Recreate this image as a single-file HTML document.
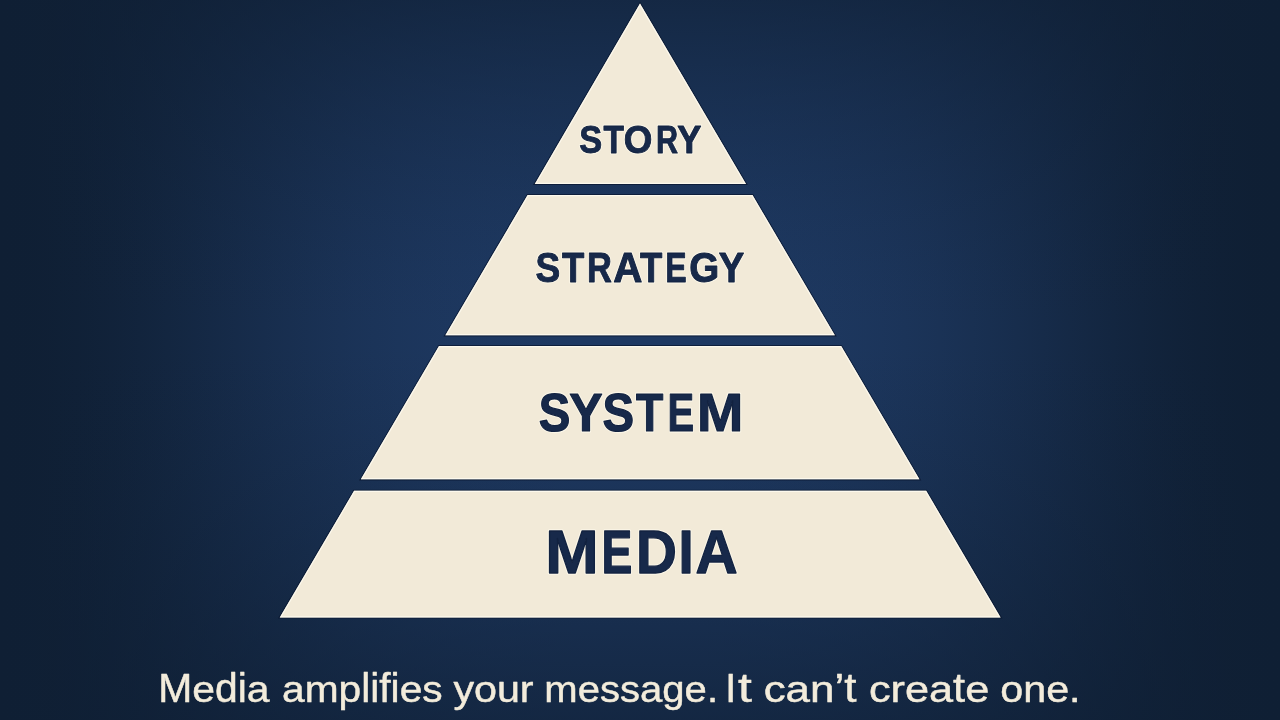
<!DOCTYPE html>
<html>
<head>
<meta charset="utf-8">
<title>Pyramid</title>
<style>
  html, body { margin: 0; padding: 0; width: 1280px; height: 720px; overflow: hidden; background: #12233d; }
  body { font-family: "Liberation Sans", sans-serif; }
  svg { display: block; position: absolute; left: 0; top: 0; }
  text { font-family: "Liberation Sans", sans-serif; -webkit-font-smoothing: antialiased; }
  svg { will-change: transform; transform: translateZ(0); }
</style>
</head>
<body>
<svg width="1280" height="720" viewBox="0 0 1280 720">
  <defs>
    <linearGradient id="bgh" x1="0" y1="0" x2="1" y2="0">
      <stop offset="0.0" stop-color="#0f1f34" stop-opacity="1.0"/>
      <stop offset="0.0208" stop-color="#0f1f34" stop-opacity="0.9918"/>
      <stop offset="0.0417" stop-color="#0f1f34" stop-opacity="0.9679"/>
      <stop offset="0.0625" stop-color="#0f1f34" stop-opacity="0.93"/>
      <stop offset="0.0833" stop-color="#0f1f34" stop-opacity="0.8799"/>
      <stop offset="0.1042" stop-color="#0f1f34" stop-opacity="0.82"/>
      <stop offset="0.125" stop-color="#0f1f34" stop-opacity="0.7525"/>
      <stop offset="0.1458" stop-color="#0f1f34" stop-opacity="0.6798"/>
      <stop offset="0.1667" stop-color="#0f1f34" stop-opacity="0.6042"/>
      <stop offset="0.1875" stop-color="#0f1f34" stop-opacity="0.5281"/>
      <stop offset="0.2083" stop-color="#0f1f34" stop-opacity="0.4533"/>
      <stop offset="0.2292" stop-color="#0f1f34" stop-opacity="0.3815"/>
      <stop offset="0.25" stop-color="#0f1f34" stop-opacity="0.3144"/>
      <stop offset="0.2708" stop-color="#0f1f34" stop-opacity="0.2529"/>
      <stop offset="0.2917" stop-color="#0f1f34" stop-opacity="0.198"/>
      <stop offset="0.3125" stop-color="#0f1f34" stop-opacity="0.1501"/>
      <stop offset="0.3333" stop-color="#0f1f34" stop-opacity="0.1096"/>
      <stop offset="0.3542" stop-color="#0f1f34" stop-opacity="0.0763"/>
      <stop offset="0.375" stop-color="#0f1f34" stop-opacity="0.05"/>
      <stop offset="0.3958" stop-color="#0f1f34" stop-opacity="0.0302"/>
      <stop offset="0.4167" stop-color="#0f1f34" stop-opacity="0.0163"/>
      <stop offset="0.4375" stop-color="#0f1f34" stop-opacity="0.0073"/>
      <stop offset="0.4583" stop-color="#0f1f34" stop-opacity="0.0023"/>
      <stop offset="0.4792" stop-color="#0f1f34" stop-opacity="0.0003"/>
      <stop offset="0.5" stop-color="#0f1f34" stop-opacity="0.0"/>
      <stop offset="0.5208" stop-color="#0f1f34" stop-opacity="0.0003"/>
      <stop offset="0.5417" stop-color="#0f1f34" stop-opacity="0.0023"/>
      <stop offset="0.5625" stop-color="#0f1f34" stop-opacity="0.0073"/>
      <stop offset="0.5833" stop-color="#0f1f34" stop-opacity="0.0163"/>
      <stop offset="0.6042" stop-color="#0f1f34" stop-opacity="0.0302"/>
      <stop offset="0.625" stop-color="#0f1f34" stop-opacity="0.05"/>
      <stop offset="0.6458" stop-color="#0f1f34" stop-opacity="0.0763"/>
      <stop offset="0.6667" stop-color="#0f1f34" stop-opacity="0.1096"/>
      <stop offset="0.6875" stop-color="#0f1f34" stop-opacity="0.1501"/>
      <stop offset="0.7083" stop-color="#0f1f34" stop-opacity="0.198"/>
      <stop offset="0.7292" stop-color="#0f1f34" stop-opacity="0.2529"/>
      <stop offset="0.75" stop-color="#0f1f34" stop-opacity="0.3144"/>
      <stop offset="0.7708" stop-color="#0f1f34" stop-opacity="0.3815"/>
      <stop offset="0.7917" stop-color="#0f1f34" stop-opacity="0.4533"/>
      <stop offset="0.8125" stop-color="#0f1f34" stop-opacity="0.5281"/>
      <stop offset="0.8333" stop-color="#0f1f34" stop-opacity="0.6042"/>
      <stop offset="0.8542" stop-color="#0f1f34" stop-opacity="0.6798"/>
      <stop offset="0.875" stop-color="#0f1f34" stop-opacity="0.7525"/>
      <stop offset="0.8958" stop-color="#0f1f34" stop-opacity="0.82"/>
      <stop offset="0.9167" stop-color="#0f1f34" stop-opacity="0.8799"/>
      <stop offset="0.9375" stop-color="#0f1f34" stop-opacity="0.93"/>
      <stop offset="0.9583" stop-color="#0f1f34" stop-opacity="0.9679"/>
      <stop offset="0.9792" stop-color="#0f1f34" stop-opacity="0.9918"/>
      <stop offset="1.0" stop-color="#0f1f34" stop-opacity="1.0"/>
    </linearGradient>
    <linearGradient id="bgv" x1="0" y1="0" x2="0" y2="1">
      <stop offset="0.0" stop-color="#0f1f34" stop-opacity="0.6501"/>
      <stop offset="0.025" stop-color="#0f1f34" stop-opacity="0.5927"/>
      <stop offset="0.05" stop-color="#0f1f34" stop-opacity="0.5375"/>
      <stop offset="0.075" stop-color="#0f1f34" stop-opacity="0.4845"/>
      <stop offset="0.1" stop-color="#0f1f34" stop-opacity="0.4338"/>
      <stop offset="0.125" stop-color="#0f1f34" stop-opacity="0.3855"/>
      <stop offset="0.15" stop-color="#0f1f34" stop-opacity="0.3395"/>
      <stop offset="0.175" stop-color="#0f1f34" stop-opacity="0.2959"/>
      <stop offset="0.2" stop-color="#0f1f34" stop-opacity="0.2549"/>
      <stop offset="0.225" stop-color="#0f1f34" stop-opacity="0.2164"/>
      <stop offset="0.25" stop-color="#0f1f34" stop-opacity="0.1805"/>
      <stop offset="0.275" stop-color="#0f1f34" stop-opacity="0.1474"/>
      <stop offset="0.3" stop-color="#0f1f34" stop-opacity="0.117"/>
      <stop offset="0.325" stop-color="#0f1f34" stop-opacity="0.0896"/>
      <stop offset="0.35" stop-color="#0f1f34" stop-opacity="0.0653"/>
      <stop offset="0.375" stop-color="#0f1f34" stop-opacity="0.0443"/>
      <stop offset="0.4" stop-color="#0f1f34" stop-opacity="0.0267"/>
      <stop offset="0.425" stop-color="#0f1f34" stop-opacity="0.013"/>
      <stop offset="0.45" stop-color="#0f1f34" stop-opacity="0.0036"/>
      <stop offset="0.475" stop-color="#0f1f34" stop-opacity="0.0004"/>
      <stop offset="0.5" stop-color="#0f1f34" stop-opacity="0.011"/>
      <stop offset="0.525" stop-color="#0f1f34" stop-opacity="0.0271"/>
      <stop offset="0.55" stop-color="#0f1f34" stop-opacity="0.0467"/>
      <stop offset="0.575" stop-color="#0f1f34" stop-opacity="0.0689"/>
      <stop offset="0.6" stop-color="#0f1f34" stop-opacity="0.0935"/>
      <stop offset="0.625" stop-color="#0f1f34" stop-opacity="0.1201"/>
      <stop offset="0.65" stop-color="#0f1f34" stop-opacity="0.1484"/>
      <stop offset="0.675" stop-color="#0f1f34" stop-opacity="0.1785"/>
      <stop offset="0.7" stop-color="#0f1f34" stop-opacity="0.21"/>
      <stop offset="0.725" stop-color="#0f1f34" stop-opacity="0.243"/>
      <stop offset="0.75" stop-color="#0f1f34" stop-opacity="0.2773"/>
      <stop offset="0.775" stop-color="#0f1f34" stop-opacity="0.3128"/>
      <stop offset="0.8" stop-color="#0f1f34" stop-opacity="0.3496"/>
      <stop offset="0.825" stop-color="#0f1f34" stop-opacity="0.3874"/>
      <stop offset="0.85" stop-color="#0f1f34" stop-opacity="0.4264"/>
      <stop offset="0.875" stop-color="#0f1f34" stop-opacity="0.4664"/>
      <stop offset="0.9" stop-color="#0f1f34" stop-opacity="0.5075"/>
      <stop offset="0.925" stop-color="#0f1f34" stop-opacity="0.5495"/>
      <stop offset="0.95" stop-color="#0f1f34" stop-opacity="0.5924"/>
      <stop offset="0.975" stop-color="#0f1f34" stop-opacity="0.6363"/>
      <stop offset="1.0" stop-color="#0f1f34" stop-opacity="0.681"/>
    </linearGradient>
    <polygon id="p1" points="640,3.6 746.0,184.0 534.8,184.0"/>
    <clipPath id="cp1"><use href="#p1"/></clipPath>
    <polygon id="p2" points="527.62,195.1 752.49,195.1 834.84,335.3 445.35,335.3"/>
    <clipPath id="cp2"><use href="#p2"/></clipPath>
    <polygon id="p3" points="439.01,346.1 841.18,346.1 919.42,479.3 360.85,479.3"/>
    <clipPath id="cp3"><use href="#p3"/></clipPath>
    <polygon id="p4" points="354.1,490.8 926.18,490.8 1000.6,617.5 279.75,617.5"/>
    <clipPath id="cp4"><use href="#p4"/></clipPath>
    <g id="lbl" stroke-linejoin="round" font-weight="700">
      <g font-size="40" style="stroke-width:calc(0.95px + var(--x,0px))"><text transform="translate(579.14 153.24) scale(0.8592 0.9478)">S</text><text transform="translate(603.5 153.24) scale(0.8379 0.9478)">T</text><text transform="translate(623.82 153.24) scale(0.9192 0.9478)">O</text><text transform="translate(656.0 153.24) scale(0.7636 0.9478)">R</text><text transform="translate(677.32 153.24) scale(0.904 0.9478)">Y</text></g>
      <g font-size="44.5" style="stroke-width:calc(1.0px + var(--x,0px))"><text transform="translate(535.39 282.49) scale(0.8318 0.9543)">S</text><text transform="translate(561.88 282.49) scale(0.8196 0.9543)">T</text><text transform="translate(586.88 282.49) scale(0.7732 0.9543)">R</text><text transform="translate(613.25 282.49) scale(0.9071 0.9543)">A</text><text transform="translate(640.08 282.49) scale(0.8196 0.9543)">T</text><text transform="translate(665.21 282.49) scale(0.7211 0.9543)">E</text><text transform="translate(689.13 282.49) scale(0.8672 0.9543)">G</text><text transform="translate(718.67 282.49) scale(0.8585 0.9543)">Y</text></g>
      <g font-size="55" style="stroke-width:calc(1.2px + var(--x,0px))"><text transform="translate(538.77 430.72) scale(0.8615 0.9723)">S</text><text transform="translate(569.36 430.72) scale(0.9108 0.9723)">Y</text><text transform="translate(602.57 430.72) scale(0.8615 0.9723)">S</text><text transform="translate(636.1 430.72) scale(0.8129 0.9723)">T</text><text transform="translate(667.48 430.72) scale(0.7265 0.9723)">E</text><text transform="translate(697.11 430.72) scale(1.01 0.9723)">M</text></g>
      <g font-size="62" style="stroke-width:calc(1.3px + var(--x,0px))"><text transform="translate(545.28 573.08) scale(1.0347 0.9801)">M</text><text transform="translate(601.49 573.08) scale(0.7457 0.9801)">E</text><text transform="translate(635.9 573.08) scale(0.9134 0.9801)">D</text><text transform="translate(678.62 573.08) scale(0.8796 0.9801)">I</text><text transform="translate(695.61 573.08) scale(0.9416 0.9801)">A</text></g>
    </g>
  </defs>
  <rect x="0" y="0" width="1280" height="720" fill="#1e3962"/>
  <rect x="0" y="0" width="1280" height="720" fill="url(#bgh)"/>
  <rect x="0" y="0" width="1280" height="720" fill="url(#bgv)"/>

  <!-- pyramid tiers -->
  <g fill="none" stroke="#0a1730" stroke-opacity="0.75" stroke-width="2.2" stroke-linejoin="miter">
    <use href="#p1"/>
    <use href="#p2"/>
    <use href="#p3"/>
    <use href="#p4"/>
  </g>
  <g fill="#f2ead8">
    <use href="#p1"/>
    <use href="#p2"/>
    <use href="#p3"/>
    <use href="#p4"/>
  </g>
  <g fill="none" stroke="#fffcf2" stroke-opacity="0.8" stroke-width="2.4">
    <use href="#p1" clip-path="url(#cp1)"/>
    <use href="#p2" clip-path="url(#cp2)"/>
    <use href="#p3" clip-path="url(#cp3)"/>
    <use href="#p4" clip-path="url(#cp4)"/>
  </g>

  <!-- labels -->
  <use href="#lbl" style="--x:2.2px" fill="#fdf8ea" stroke="#fdf8ea" stroke-opacity="0.85"/>
  <use href="#lbl" fill="#17294a" stroke="#122240"/>

  <g id="cap" fill="#f3ecdb" stroke="#f3ecdb" stroke-width="0.5" stroke-linejoin="round" font-size="41">
    <text transform="translate(158.27 701.9) scale(0.9966 1)">M</text><text transform="translate(192.29 701.9) scale(0.9966 0.92)">e</text><text transform="translate(215.03 701.9) scale(0.9966 1)">d</text><text transform="translate(237.75 701.9) scale(0.9966 1)">i</text><text transform="translate(246.83 701.9) scale(0.9966 0.92)">a</text>
    <text transform="translate(282.02 701.9) scale(0.9931 0.92)">a</text><text transform="translate(304.66 701.9) scale(0.9931 0.92)">m</text><text transform="translate(338.58 701.9) scale(0.9931 0.92)">p</text><text transform="translate(361.22 701.9) scale(0.9931 1)">l</text><text transform="translate(370.27 701.9) scale(0.9931 1)">i</text><text transform="translate(379.31 701.9) scale(0.9931 1)">f</text><text transform="translate(390.62 701.9) scale(0.9931 1)">i</text><text transform="translate(399.67 701.9) scale(0.9931 0.92)">e</text><text transform="translate(422.31 701.9) scale(0.9931 0.92)">s</text>
    <text transform="translate(453.39 701.9) scale(1.0058 0.92)">y</text><text transform="translate(474.01 701.9) scale(1.0058 0.92)">o</text><text transform="translate(496.94 701.9) scale(1.0058 0.92)">u</text><text transform="translate(519.87 701.9) scale(1.0058 0.92)">r</text>
    <text transform="translate(544.32 701.9) scale(0.9774 0.92)">m</text><text transform="translate(577.69 701.9) scale(0.9774 0.92)">e</text><text transform="translate(599.99 701.9) scale(0.9774 0.92)">s</text><text transform="translate(620.02 701.9) scale(0.9774 0.92)">s</text><text transform="translate(640.06 701.9) scale(0.9774 0.92)">a</text><text transform="translate(662.34 701.9) scale(0.9774 0.92)">g</text><text transform="translate(684.62 701.9) scale(0.9774 0.92)">e</text><text transform="translate(706.92 701.9) scale(0.9774 0.92)">.</text>
    <text transform="translate(725.28 701.9) scale(0.9618 1)">I</text><text transform="translate(738.1 701.9) scale(1.2136 1)">t</text>
    <text transform="translate(763.63 701.9) scale(1.0715 0.92)">c</text><text transform="translate(785.6 701.9) scale(1.0715 0.92)">a</text><text transform="translate(810.02 701.9) scale(1.0715 0.92)">n</text><text transform="translate(834.45 701.9) scale(1.0715 1)">’</text><text transform="translate(844.21 701.9) scale(1.0715 1)">t</text>
    <text transform="translate(868.9 701.9) scale(1.0559 0.92)">c</text><text transform="translate(890.55 701.9) scale(1.0559 0.92)">r</text><text transform="translate(904.95 701.9) scale(1.0559 0.92)">e</text><text transform="translate(929.04 701.9) scale(1.0559 0.92)">a</text><text transform="translate(953.11 701.9) scale(1.0559 1)">t</text><text transform="translate(965.14 701.9) scale(1.0559 0.92)">e</text>
    <text transform="translate(1000.24 701.9) scale(1.0066 0.92)">o</text><text transform="translate(1023.19 701.9) scale(1.0066 0.92)">n</text><text transform="translate(1046.13 701.9) scale(1.0066 0.92)">e</text><text transform="translate(1069.1 701.9) scale(1.0066 0.92)">.</text>
  </g>
</svg>
</body>
</html>
